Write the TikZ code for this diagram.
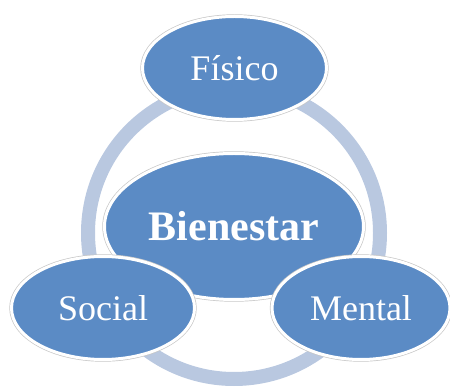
\documentclass[tikz,border=0pt]{standalone}
\usepackage{fontspec}
\setmainfont{Liberation Serif}
\usetikzlibrary{shapes.geometric}
\definecolor{bubfill}{RGB}{91,139,197}
\definecolor{ringcol}{RGB}{185,200,224}
\tikzset{
  bub/.style={ellipse, inner sep=0pt, fill=bubfill, draw=white, line width=3pt,
    preaction={draw=black!22, line width=4.4pt},
    text=white, font=\fontsize{36}{40}\selectfont},
  ringline/.style={draw=ringcol, line width=14pt}
}
\begin{document}
\begin{tikzpicture}[x=1pt,y=-1pt]
\useasboundingbox (0,0) rectangle (450,387);
\draw[ringline] (234,233) circle[radius=146pt];
\node[bub, minimum width=259pt, minimum height=146pt, font=\fontsize{42}{46}\selectfont\bfseries] (bien) at (234,226.5) {Bienestar};
\node[bub, minimum width=184pt, minimum height=103pt] (fis) at (234.5,68) {Físico};
\node[bub, minimum width=183pt, minimum height=103pt] (soc) at (103,308) {Social};
\node[bub, minimum width=178pt, minimum height=103pt] (men) at (361,308) {Mental};
\end{tikzpicture}
\end{document}
